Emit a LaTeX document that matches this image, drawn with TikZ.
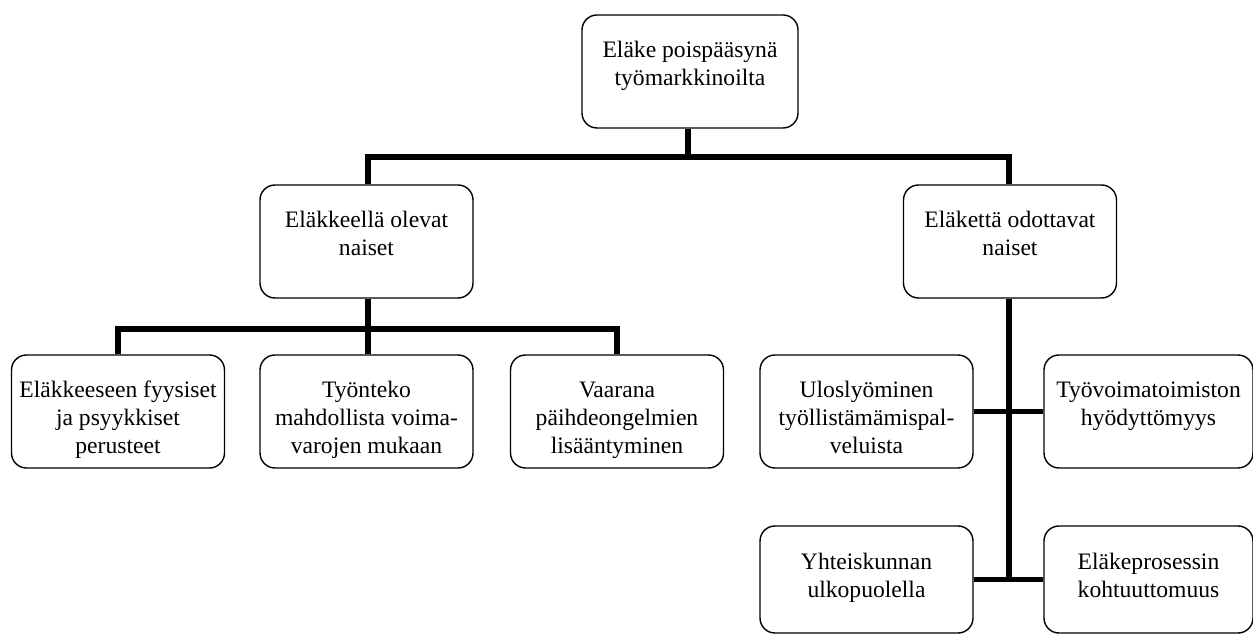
\documentclass[tikz,border=0pt]{standalone}
\usepackage{fontspec}
\setmainfont{Liberation Serif}
\newcommand\boxtext[2][113pt]{\begin{minipage}[c][#1][t]{209pt}\centering\fontsize{23.6}{28}\selectfont\rule{0pt}{43pt}#2\end{minipage}}
\tikzset{
  box/.style={draw=black, line width=1.4pt, rounded corners=15pt, fill=white,
    minimum width=213pt, minimum height=113pt, inner sep=0pt},
  lowbox/.style={box, minimum height=107pt},
  conn/.style={draw=black, line width=5.5pt, line join=miter}
}
\begin{document}
\begin{tikzpicture}[x=1pt,y=1pt]
\useasboundingbox (0,0) rectangle (1253,635);
% nodes
\node[box, minimum width=216pt] (top) at (690,563.5) {\boxtext{Eläke poispääsynä\\työmarkkinoilta}};
\node[box] (l2l) at (366.5,393.5) {\boxtext{Eläkkeellä olevat\\naiset}};
\node[box] (l2r) at (1010,393.5) {\boxtext{Eläkettä odottavat\\naiset}};
\node[box] (l3a) at (118,223.5) {\boxtext{Eläkkeeseen fyysiset\\ja psyykkiset\\perusteet}};
\node[box] (l3b) at (366.5,223.5) {\boxtext{Työnteko\\mahdollista voima-\\varojen mukaan}};
\node[box] (l3c) at (617,223.5) {\boxtext{Vaarana\\päihdeongelmien\\lisääntyminen}};
\node[box] (r3a) at (866.5,223.5) {\boxtext{Uloslyöminen\\työllistämämispal-\\veluista}};
\node[box, minimum width=207pt] (r3b) at (1148.5,223.5) {\boxtext{Työvoimatoimiston\\hyödyttömyys}};
\node[lowbox] (r4a) at (866.5,55.5) {\boxtext[107pt]{Yhteiskunnan\\ulkopuolella}};
\node[lowbox, minimum width=207pt] (r4b) at (1148.5,55.5) {\boxtext[107pt]{Eläkeprosessin\\kohtuuttomuus}};
% connector points
\coordinate (b1) at (688,478);
\coordinate (b2) at (368,306);
\coordinate (t) at (1009,54);
% connectors
\draw[conn] (top.south -| b1) -- (b1);
\draw[conn] (l2l.north -| b2) |- (b1) -| (l2r.north -| t);
\draw[conn] (l2l.south -| b2) -- (l3b.north -| b2);
\draw[conn] (l3a.north) |- (b2) -| (l3c.north);
\draw[conn] (l2r.south -| t) -- (t);
\draw[conn] (r3a.east) -- (r3b.west);
\draw[conn] (r4a.east) -- (r4b.west);
\end{tikzpicture}
\end{document}
